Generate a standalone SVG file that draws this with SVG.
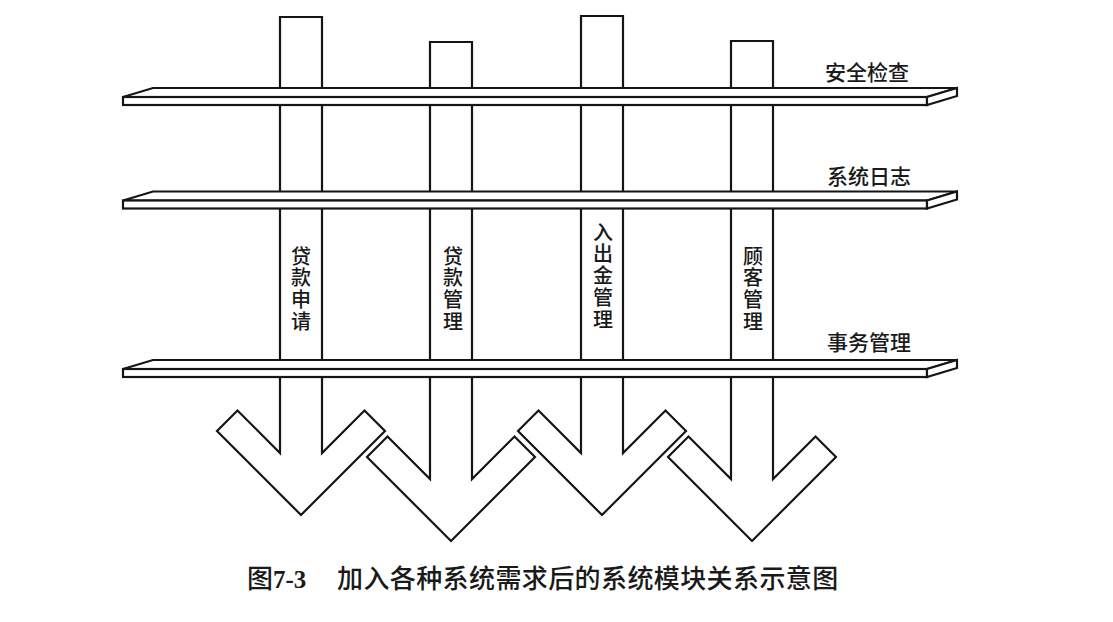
<svg xmlns="http://www.w3.org/2000/svg" width="1113" height="622" viewBox="0 0 1113 622">
  <style>
    .ln { fill: #fff; stroke: #151515; stroke-width: 2.2; stroke-linejoin: miter; }
    .vt { font-family: "Noto Sans CJK SC", sans-serif; font-size: 20px; fill: #1a1a1a; font-weight: 500; writing-mode: vertical-rl; text-orientation: upright; letter-spacing: 1.8px; }
    .lb { font-family: "Noto Sans CJK SC", sans-serif; font-size: 21px; fill: #1a1a1a; font-weight: 500; }
    .cap { font-family: "Noto Sans CJK SC", sans-serif; font-size: 26px; fill: #1a1a1a; font-weight: 500; }
  </style>
  <defs>
    <g id="slab">
      <polygon class="ln" points="153,0 957,0 927,9 123,9"/>
      <rect class="ln" x="123" y="9" width="804" height="8"/>
      <polygon class="ln" points="927,9 957,0 957,8 927,17"/>
    </g>
  </defs>
  <rect width="1113" height="622" fill="#fff"/>

  <g id="module-loan-apply">
    <polygon class="ln" points="280,17 322,17 322,453 364.5,410.5 385,431 301,515 217,431 237.5,410.5 280,453"/>
    <text class="vt" x="301" y="246">贷款申请</text>
  </g>
  <g id="module-loan-manage">
    <polygon class="ln" points="430,42 472,42 472,479 514.5,436.5 535,457 451,541 367,457 387.5,436.5 430,479"/>
    <text class="vt" x="453" y="246">贷款管理</text>
  </g>
  <g id="module-cash-manage">
    <polygon class="ln" points="581,16 623,16 623,453 665.5,410.5 686,431 602,515 518,431 538.5,410.5 581,453"/>
    <text class="vt" x="603" y="222">入出金管理</text>
  </g>
  <g id="module-customer-manage">
    <polygon class="ln" points="731,41 773,41 773,479 815.5,436.5 836,457 752,541 668,457 688.5,436.5 731,479"/>
    <text class="vt" x="753" y="246">顾客管理</text>
  </g>

  <g id="layer-security">
    <use href="#slab" x="0" y="88"/>
    <text class="lb" x="825" y="80">安全检查</text>
  </g>
  <g id="layer-syslog">
    <use href="#slab" x="0" y="191.5"/>
    <text class="lb" x="827" y="184">系统日志</text>
  </g>
  <g id="layer-transaction">
    <use href="#slab" x="0" y="360"/>
    <text class="lb" x="827" y="350">事务管理</text>
  </g>

  <g id="connectors"></g>

  <g id="caption">
    <text class="cap" x="247" y="588">图<tspan font-family="Liberation Serif, serif" font-weight="700" font-size="25">7-3</tspan></text>
    <text class="cap" x="337" y="588" letter-spacing="0.4">加入各种系统需求后的系统模块关系示意图</text>
  </g>
</svg>
